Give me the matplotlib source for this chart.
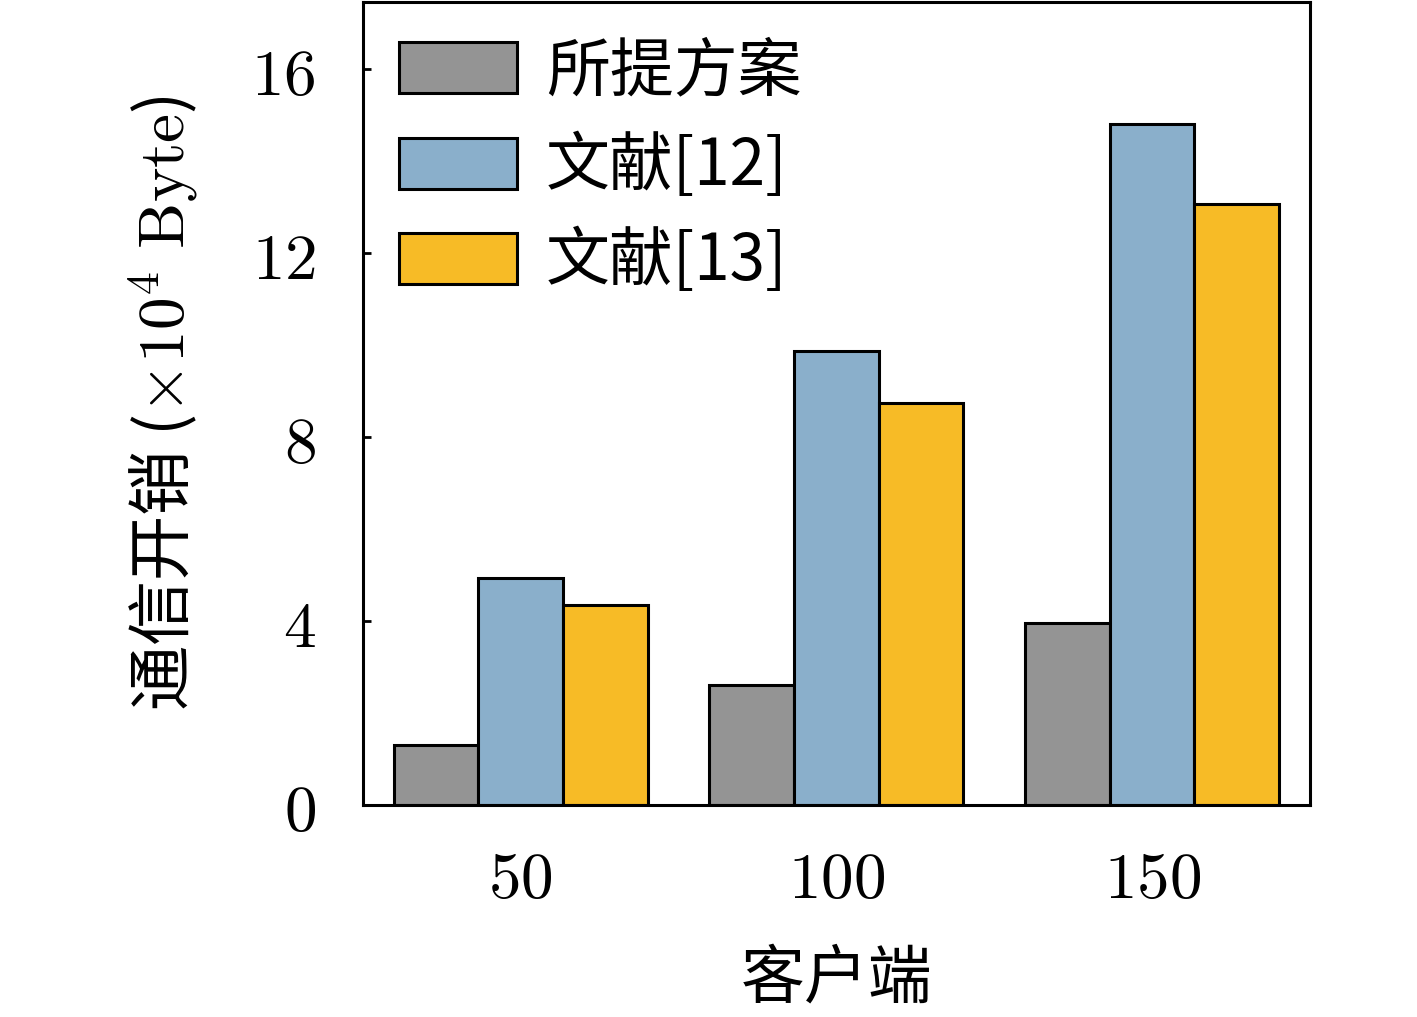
import numpy as np
import matplotlib.pyplot as plt

plt.rcParams['font.family'] = ['Noto Sans CJK SC', 'DejaVu Serif']
plt.rcParams['mathtext.fontset'] = 'cm'

# ============== data ===================
clients = [50, 100, 150]
series = ['所提方案', '文献[12]', '文献[13]']
proposed = [1.3, 2.6, 3.95]
ref12 = [4.93, 9.87, 14.8]
ref13 = [4.35, 8.74, 13.07]
colors = ['#949494', '#8AAFCB', '#F7BB26']

# ============== plot ===================
fig = plt.figure(figsize=(14.17, 10.17), dpi=100)
ax = fig.add_axes([0.256, 0.2085, 0.6685, 0.7895])

x = np.array(clients, dtype=float)
w = 13.4
for i, (vals, name) in enumerate(zip([proposed, ref12, ref13], series)):
    ax.bar(x + (i - 1) * w, vals, w, color=colors[i], edgecolor='black',
           linewidth=2.2, label=name, zorder=2)

ax.set_xlim(25, 175)
ax.set_ylim(0, 17.45)
ax.set_xticks(clients)
ax.set_xticklabels(['$%d$' % c for c in clients])
ax.set_yticks([0, 4, 8, 12, 16])
ax.set_yticklabels(['$%d$' % v for v in [0, 4, 8, 12, 16]])
ax.tick_params(direction='in', length=6, width=2, labelsize=47)
ax.tick_params(axis='y', pad=34)
ax.tick_params(axis='x', pad=30)
for s in ax.spines.values():
    s.set_linewidth(2.2)

ax.set_xlabel('客户端', fontsize=46, labelpad=24)
ax.set_ylabel(r'通信开销 ($\times 10^4\ \mathrm{Byte}$)', fontsize=47, labelpad=36)

ax.legend(loc='upper left', frameon=False, fontsize=46, handlelength=1.85,
          handleheight=0.85, handletextpad=0.45, labelspacing=0.45,
          borderaxespad=0.35, borderpad=0.22)

fig.savefig('out.png', dpi=100)
